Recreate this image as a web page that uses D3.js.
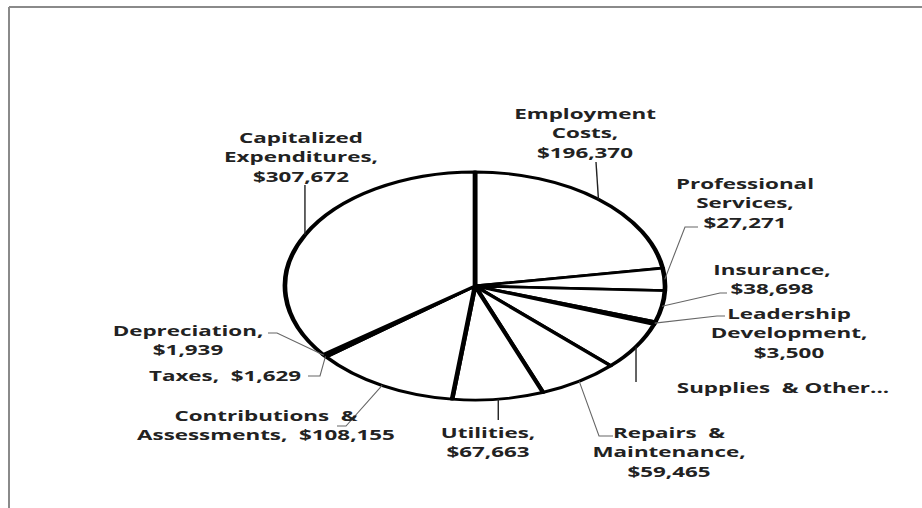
<!DOCTYPE html>
<html><head><meta charset="utf-8">
<script src="https://cdn.jsdelivr.net/npm/d3@7"></script>
<style>html,body{margin:0;padding:0;background:#fff;} svg{display:block;}</style>
</head><body>
<svg id="chart" width="922" height="508"></svg>
<script>
// ---- data ----
const categories = ["Employment Costs","Professional Services","Insurance","Leadership Development","Supplies & Other","Repairs & Maintenance","Utilities","Contributions & Assessments","Taxes","Depreciation","Capitalized Expenditures"];
const values = [196370, 27271, 38698, 3500, 60000, 59465, 67663, 108155, 1629, 1939, 307672];
const labelLines = [
  ["Employment","Costs,","$196,370"],
  ["Professional","Services,","$27,271"],
  ["Insurance,","$38,698"],
  ["Leadership","Development,","$3,500"],
  ["Supplies  & Other..."],
  ["Repairs  &","Maintenance,","$59,465"],
  ["Utilities,","$67,663"],
  ["Contributions  &","Assessments,  $108,155"],
  ["Taxes,  $1,629"],
  ["Depreciation,","$1,939"],
  ["Capitalized","Expenditures,","$307,672"]
];

// ---- layout ----
const W = 922, H = 508;
const cx = 475, cy = 286, R = 114, SX = 1.667;
const FS = 14, TSX = 1.6, LH = 19.5;
const layout = [
  {x:585, y:113, lead:[[596,162]], dark:true},
  {x:745, y:183, lead:[[685,227],[698,227]]},
  {x:772, y:269, lead:[[720,293],[727,293]]},
  {x:789, y:313, lead:[[717,316],[725,316]]},
  {x:783, y:387, lead:"vert", ly:382, dark:true},
  {x:669, y:432, lead:[[599,436],[613,436]]},
  {x:488, y:432, lead:"vert", ly:420, dark:true},
  {x:266, y:415, lead:[[346,426],[337,426]]},
  {x:225, y:375, lead:[[320,376],[308,376]]},
  {x:188, y:330, lead:[[277,333],[268,333]]},
  {x:301, y:137, lead:"vert", ly:185, dark:true}
];

const svg = d3.select("#chart");

// frame
svg.append("line").attr("x1",9).attr("y1",7).attr("x2",W).attr("y2",7)
  .attr("stroke","#8a8a8a").attr("stroke-width",2);
svg.append("line").attr("x1",9).attr("y1",7).attr("x2",9).attr("y2",H)
  .attr("stroke","#8a8a8a").attr("stroke-width",2);

const pie = d3.pie().sort(null).value(d => d)(values);
const arc = d3.arc().innerRadius(0).outerRadius(R);

const g = svg.append("g").attr("transform", `translate(${cx},${cy}) scale(${SX},1)`);
g.selectAll("path").data(pie).join("path")
  .attr("d", arc)
  .attr("fill", "#fff")
  .attr("stroke", "#000")
  .attr("stroke-width", 2.8)
  .attr("stroke-linejoin", "round");

// leaders
const lg = svg.append("g");
pie.forEach((p, i) => {
  const m = (p.startAngle + p.endAngle) / 2;
  const ex = cx + SX * R * Math.sin(m), ey = cy - R * Math.cos(m);
  const L = layout[i];
  let pts = [[ex, ey]];
  if (L.lead === "vert") pts.push([ex, L.ly]);
  else pts = pts.concat(L.lead);
  lg.append("path").attr("d", d3.line()(pts))
    .attr("fill","none")
    .attr("stroke", L.dark ? "#222" : "#666")
    .attr("stroke-width", L.dark ? 1.4 : 1.1);
});

// labels
const tg = svg.append("g");
labelLines.forEach((lines, i) => {
  const L = layout[i];
  lines.forEach((t, j) => {
    tg.append("text")
      .attr("transform", `translate(${L.x},${L.y + j*LH}) scale(${TSX},1)`)
      .attr("text-anchor", "middle")
      .attr("dominant-baseline", "central")
      .style("white-space", "pre")
      .attr("font-family", "'Open Sans', sans-serif")
      .attr("font-weight", 700)
      .attr("font-size", FS)
      .attr("fill", "#222")
      .text(t);
  });
});
</script>
</body></html>
